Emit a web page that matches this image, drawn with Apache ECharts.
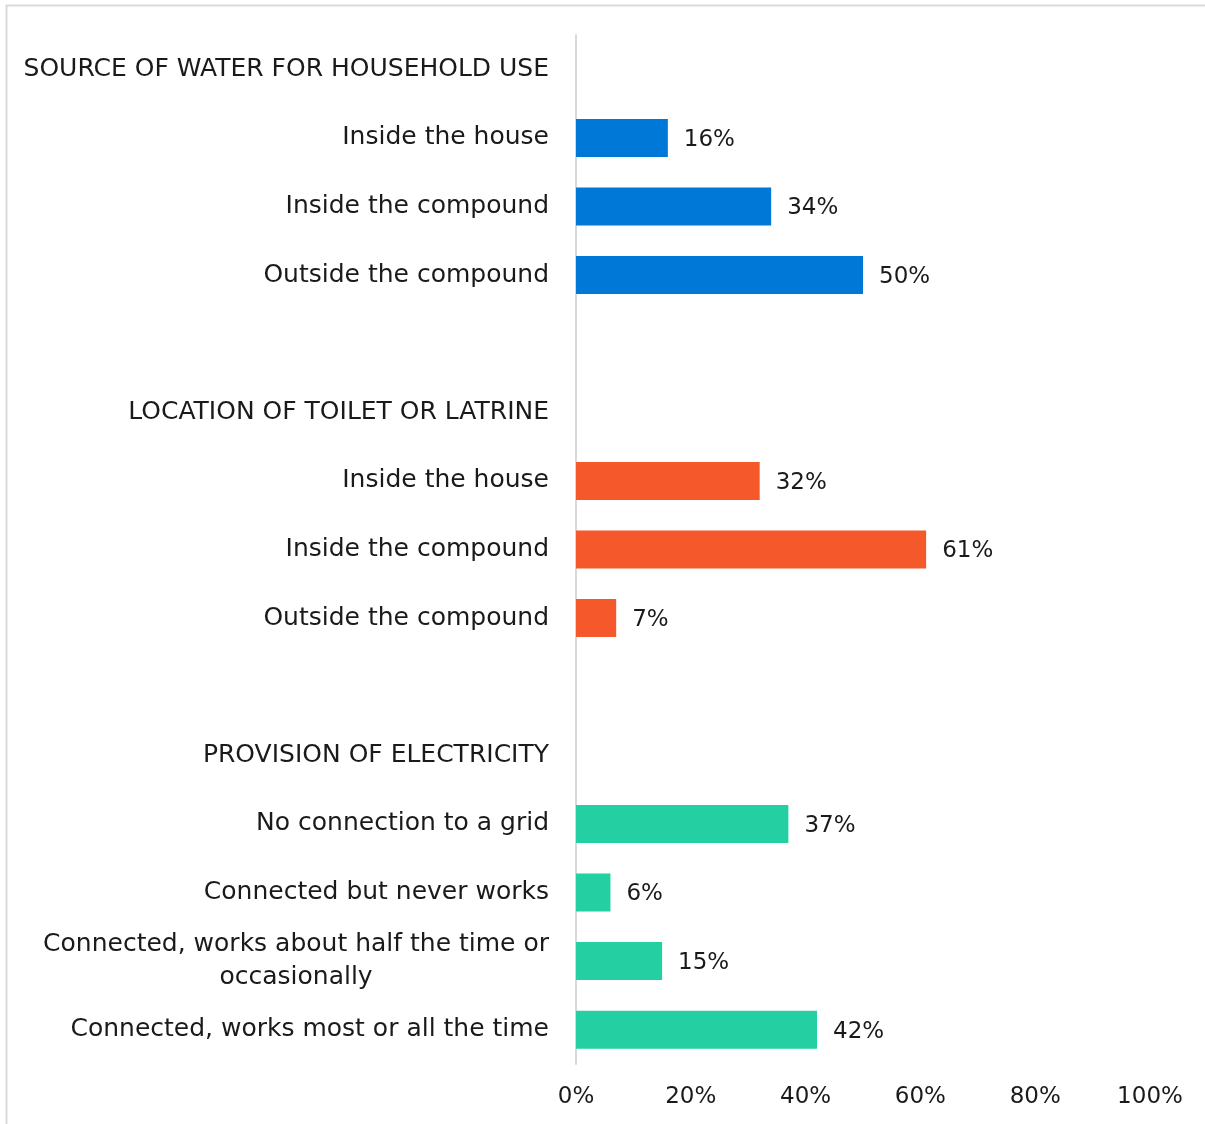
<!DOCTYPE html>
<html><head><meta charset="utf-8">
<script src="https://cdn.jsdelivr.net/npm/echarts@6/dist/echarts.min.js"></script>
<style>html,body{margin:0;padding:0;background:#fff}#c{width:1205px;height:1124px}</style>
</head><body><div id="c"></div>
<script>
const categories = [
  'SOURCE OF WATER FOR HOUSEHOLD USE',
  'Inside the house', 'Inside the compound', 'Outside the compound',
  '',
  'LOCATION OF TOILET OR LATRINE',
  'Inside the house ', 'Inside the compound ', 'Outside the compound ',
  ' ',
  'PROVISION OF ELECTRICITY',
  'No connection to a grid', 'Connected but never works',
  'Connected, works about half the time or\noccasionally',
  'Connected, works most or all the time'
];
const waterValues = ['-', 16, 34, 50, '-', '-', '-', '-', '-', '-', '-', '-', '-', '-', '-'];
const toiletValues = ['-', '-', '-', '-', '-', '-', 32, 61, 7, '-', '-', '-', '-', '-', '-'];
const electricityValues = ['-', '-', '-', '-', '-', '-', '-', '-', '-', '-', '-', 37, 6, 15, 42];
const xTicks = [0, 20, 40, 60, 80, 100];

const FONT = 'DejaVu Sans';
const colors = ['#0078d7', '#f4582b', '#24d0a1'];
function mk(name, vals, color) {
  return {
    name, type: 'bar', data: vals, stack: 'all', barWidth: 38,
    itemStyle: { color },
    label: { show: true, position: 'right', distance: 16, offset: [0, 2], formatter: '{c}%',
      fontFamily: FONT, fontSize: 23, color: '#1a1a1a' }
  };
}
const chart = echarts.init(document.getElementById('c'));
chart.setOption({
  animation: false,
  backgroundColor: '#fff',
  graphic: [{ type: 'rect', shape: { x: 6.5, y: 5.5, width: 1300, height: 1300 },
    style: { fill: 'none', stroke: '#d9d9d9', lineWidth: 2 }, silent: true, z: -1 }],
  grid: { left: 576, right: 55, top: 35, bottom: 60, containLabel: false },
  xAxis: {
    type: 'value', min: 0, max: 100, interval: 20,
    axisLine: { show: false }, axisTick: { show: false }, splitLine: { show: false },
    axisLabel: { margin: 22, fontFamily: FONT, fontSize: 23, color: '#1a1a1a',
      formatter: v => xTicks.includes(v) ? v + '%' : '' }
  },
  yAxis: {
    type: 'category', data: categories, inverse: true,
    axisLine: { show: true, lineStyle: { color: '#d9d9d9', width: 2 } },
    axisTick: { show: false },
    axisLabel: {
      margin: 27, fontFamily: FONT, fontSize: 25, color: '#1a1a1a', lineHeight: 33,
      formatter: v => {
        const t = v.trim();
        return t.includes('\n') ? t.split('\n').map(s => '{c|' + s + '}').join('\n') : t;
      },
      rich: { c: { align: 'center', fontFamily: FONT, fontSize: 25, color: '#1a1a1a', lineHeight: 33 } }
    }
  },
  series: [mk('Water', waterValues, colors[0]), mk('Toilet', toiletValues, colors[1]), mk('Electricity', electricityValues, colors[2])]
});
</script></body></html>
